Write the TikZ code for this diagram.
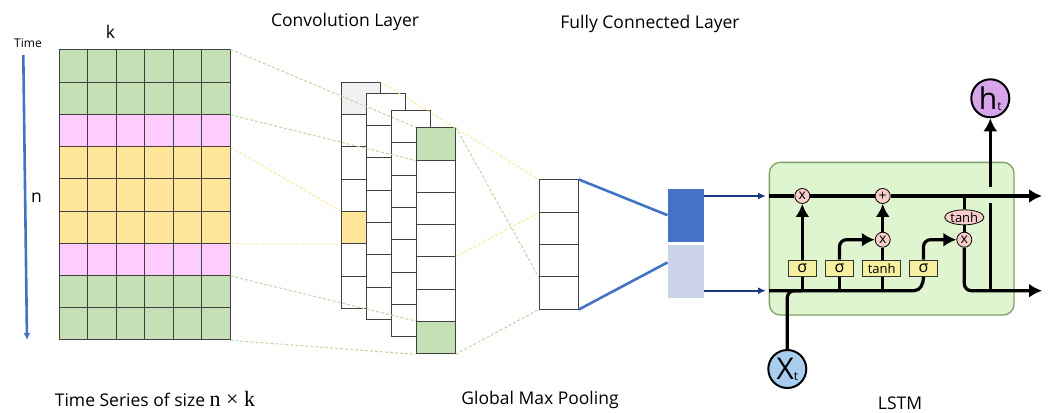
\documentclass[tikz,border=0pt]{standalone}
\usepackage{fontspec}
\setmainfont{Open Sans}
\newfontfamily\serifpart{Liberation Serif}
\usepackage{tikz}
\usetikzlibrary{positioning}
\usetikzlibrary{arrows.meta}
\usetikzlibrary{shapes.geometric}
\definecolor{cellgreen}{HTML}{C5E0B4}
\definecolor{cellpink}{HTML}{FFCCFF}
\definecolor{cellyellow}{HTML}{FFE699}
\definecolor{cellgray}{HTML}{F0F0F0}
\definecolor{linkgreen}{HTML}{B9D8A4}
\definecolor{barblue}{HTML}{4472C4}
\definecolor{barlight}{HTML}{CAD3E8}
\definecolor{arrowblue}{HTML}{17377F}
\definecolor{lstmfill}{HTML}{DFF5CF}
\definecolor{lstmline}{HTML}{7F9F66}
\definecolor{oppink}{HTML}{F8CECC}
\definecolor{gateyellow}{HTML}{F5F0A0}
\definecolor{inblue}{HTML}{A9CDEE}
\definecolor{outpurple}{HTML}{D8A5EA}
\begin{document}
\begin{tikzpicture}
    [
    x=1pt,y=-1pt,
    label/.style={font=\fontsize{17.5}{20}\selectfont,inner sep=0pt},
    cell/.style={rectangle,draw=black!75,line width=1pt,inner sep=0pt,minimum width=28.5pt,minimum height=32.2pt},
    conv/.style={rectangle,draw=black!75,line width=1pt,fill=white,inner sep=0pt,minimum width=39pt,minimum height=32.3pt},
    c11/.style={fill=cellgray},
    c15/.style={fill=cellyellow},
    c41/.style={fill=cellgreen},
    c47/.style={fill=cellgreen},
    greenlink/.style={linkgreen,line width=1pt,dash pattern=on 3pt off 2pt},
    yellowlink/.style={cellyellow,line width=1pt,dash pattern=on 3pt off 2pt},
    bluelink/.style={barblue,line width=2.6pt},
    fclink/.style={arrowblue,line width=2pt,-{Latex[length=8pt,width=7pt]}},
    flow/.style={black,line width=3.2pt},
    bigtip/.style={-{Latex[length=13pt,width=14pt]}},
    op/.style={circle,draw=black,line width=0.8pt,fill=oppink,inner sep=0pt,minimum size=15pt,font=\fontsize{14}{14}\selectfont},
    gate/.style={rectangle,draw=black!80,line width=0.8pt,fill=gateyellow,inner sep=0pt,minimum height=16.5pt,font=\fontsize{16}{16}\selectfont},
    port/.style={circle,draw=black,line width=2pt,inner sep=0pt,minimum size=38pt},
    ]
    \useasboundingbox (0,0) rectangle (1048,412);

    % time series grid
    \foreach \r/\rowcol in {1/cellgreen,2/cellgreen,3/cellpink,4/cellyellow,5/cellyellow,6/cellyellow,7/cellpink,8/cellgreen,9/cellgreen}
      \foreach \c in {1,...,6}
        \node (s\r\c) at ({73.25+(\c-1)*28.5},{66.1+(\r-1)*32.2}) [cell,fill=\rowcol] {};

    % convolution columns
    \foreach \k/\xc/\yc in {1/360.5/98.4,2/385.5/109.4,3/411/126.8,4/435.75/143.9}
      \foreach \r in {1,...,7}
        \node (c\k\r) at (\xc,{\yc+(\r-1)*32.3}) [conv,c\k\r/.try] {};

    % pooling column
    \foreach \r in {1,...,4}
      \node (p\r) at (558.8,{196.1+(\r-1)*32.25}) [conv] {};

    % fully connected bars
    \node (fcdark) at (685.7,215.2) [rectangle,fill=barblue,inner sep=0pt,minimum width=36pt,minimum height=53pt] {};
    \node (fclight) at (685.7,271.4) [rectangle,fill=barlight,inner sep=0pt,minimum width=36pt,minimum height=53pt] {};

    \draw [greenlink] (s16.north east) to (c41.north west);
    \draw [greenlink] (s26.south east) to (c41.south west);
    \draw [yellowlink] (s36.south east) to (c15.north west);
    \draw [yellowlink] (s66.south east) to (c15.south west);
    \draw [greenlink] (s76.south east) to (c47.north west);
    \draw [greenlink] (s96.south east) to (c47.south west);
    \draw [yellowlink] (c11.north east) to (p1.north west);
    \draw [yellowlink] (c45.north east) to (p1.south west);
    \draw [greenlink] (c41.north east) to (p3.south west);
    \draw [greenlink] (c47.south east) to (p4.south west);
    \draw [bluelink] (p1.north east) to (fcdark.west);
    \draw [bluelink] (p4.south east) to ([yshift=9pt]fclight.west);

    % lstm cell
    \node (lstm) at (891.7,238.7) [rectangle,rounded corners=11pt,draw=lstmline,line width=1.3pt,fill=lstmfill,minimum width=244.7pt,minimum height=152.7pt] {};
    \coordinate (topin) at (769,196);
    \coordinate (botin) at (769,290.7);
    \coordinate (topout) at (1042,196);
    \coordinate (botout) at (1042,290.7);
    \coordinate (botbend) at (914,290.7);
    \node (mul1) at (802.3,196) [op] {x};
    \node (add1) at (882.7,196) [op] {+};
    \node (mul2) at (882.7,239.7) [op] {x};
    \node (mul3) at (964.3,239.7) [op] {x};
    \node (tanh2) at (964.3,217.3) [ellipse,draw=black,line width=0.8pt,fill=oppink,inner sep=0pt,minimum width=38pt,minimum height=15pt,font=\fontsize{13}{13}\selectfont] {tanh};
    \node (sig1) at (802.3,268.3) [gate,minimum width=27.5pt] {σ};
    \node (sig2) at (839.5,268.3) [gate,minimum width=27.5pt] {σ};
    \node (tanh1) at (881.7,268.3) [gate,minimum width=38pt,font=\fontsize{13}{13}\selectfont] {tanh};
    \node (sig3) at (923.5,268.3) [gate,minimum width=27.5pt] {σ};
    \node (xt) at (787.3,369) [port,fill=inblue] {\fontsize{30}{30}\selectfont X\raisebox{-1pt}{\fontsize{12}{12}\selectfont t}};
    \node (ht) at (990.3,98.3) [port,fill=outpurple] {\fontsize{30}{30}\selectfont h\raisebox{-1pt}{\fontsize{12}{12}\selectfont t}};
    \coordinate (htgaplow) at (990.3,203);
    \coordinate (htgaphigh) at (990.3,187);

    \draw [fclink] (fcdark.east |- topin) to ([xshift=-3pt]topin);
    \draw [fclink] (fclight.east |- botin) to ([xshift=-3pt]botin);

    \draw [flow] (topin) to (mul1);
    \draw [flow] (mul1) to (add1);
    \draw [flow,bigtip] (add1) to (topout);
    \draw [flow] (botin) to (botbend) to [out=0,in=270] (sig3.south);
    \draw [flow,rounded corners=7pt] (xt) |- (sig1 |- botin);
    \draw [flow] (sig1 |- botin) to (sig1);
    \draw [flow,bigtip] (sig1) to (mul1);
    \draw [flow] (sig2 |- botin) to (sig2);
    \draw [flow,rounded corners=7pt,bigtip] (sig2) |- (mul2);
    \draw [flow] (mul2 |- tanh1.north) to (mul2);
    \draw [flow] (mul2 |- botin) to (mul2 |- tanh1.south);
    \draw [flow,bigtip] (mul2) to (add1);
    \draw [flow,rounded corners=7pt,bigtip] (sig3) |- (mul3);
    \draw [flow] (mul3 |- topin) to (tanh2);
    \draw [flow] (tanh2) to (mul3);
    \draw [flow,rounded corners=7pt,bigtip] (mul3) |- (botout);
    \draw [flow] (htgaplow |- botin) to (htgaplow);
    \draw [flow,bigtip] (htgaphigh) to (ht);

    % time arrow
    \coordinate (timestart) at (23.3,55);
    \coordinate (timeend) at (27,340);
    \draw [barblue,line width=2.6pt,-{Latex[length=7pt,width=7pt]}] (timestart) to (timeend);

    % labels
    \node (timelabel) at (28,43) [label,font=\fontsize{12}{14}\selectfont] {Time};
    \node (klabel) at (110.5,32) [label] {k};
    \node (nlabel) at (36.5,198) [label] {n};
    \node (convlabel) at (345,22) [label] {Convolution Layer};
    \node (fclabel) at (650,24) [label] {Fully Connected Layer};
    \node (serieslabel) at (155,399) [label] {Time Series of size {\serifpart\fontsize{22}{20}\selectfont n × k}};
    \node (poollabel) at (540,400) [label] {Global Max Pooling};
    \node (lstmlabel) at (900,403) [label] {LSTM};
  \end{tikzpicture}
\end{document}
